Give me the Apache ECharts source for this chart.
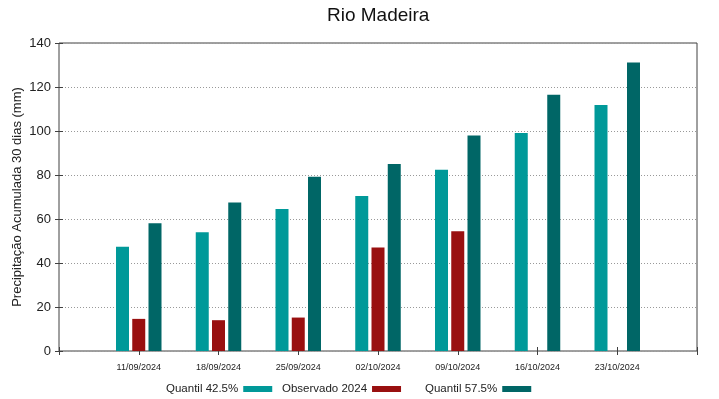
<!DOCTYPE html>
<html>
<head>
<meta charset="utf-8">
<script src="https://cdn.jsdelivr.net/npm/echarts@6/dist/echarts.min.js"></script>
<style>
  html, body { margin: 0; padding: 0; background: #fff; }
  #chart { width: 719px; height: 399px; }
</style>
</head>
<body>
<div id="chart"></div>
<script>
// datas das semanas
var dates = ['11/09/2024', '18/09/2024', '25/09/2024', '02/10/2024', '09/10/2024', '16/10/2024', '23/10/2024'];
var quantil425 = [47.4, 54.0, 64.6, 70.5, 82.4, 99.1, 111.8];
var observado = [14.6, 14.0, 15.2, 47.1, 54.4, null, null];
var quantil575 = [58.1, 67.5, 79.2, 85.0, 98.0, 116.5, 131.1];
var yTicks = [0, 20, 40, 60, 80, 100, 120, 140];

var font = 'Liberation Sans, Arial, sans-serif';
var chart = echarts.init(document.getElementById('chart'));

function toPoints(arr) {
  return arr.map(function (v, i) { return [i + 1, v == null ? '-' : v]; });
}

function legendAt(left, name) {
  return {
    left: left,
    top: 378,
    align: 'right',
    icon: 'rect',
    itemWidth: 29,
    itemHeight: 6,
    data: [name],
    textStyle: { fontFamily: font, fontSize: 11.5, color: '#222' }
  };
}

var tick = { show: true, inside: true, length: 4, lineStyle: { color: '#404040' } };

var option = {
  animation: false,
  title: {
    text: 'Rio Madeira',
    left: 322,
    top: 1,
    textStyle: { fontFamily: font, fontSize: 19, fontWeight: 'normal', color: '#111' }
  },
  legend: [
    legendAt(161, 'Quantil 42.5%'),
    legendAt(277, 'Observado 2024'),
    legendAt(420, 'Quantil 57.5%')
  ],
  grid: {
    left: 59, right: 22, top: 43, bottom: 48,
    outerBoundsMode: 'none',
    containLabel: false,
    show: true, borderColor: '#404040', borderWidth: 1
  },
  xAxis: [
    {
      type: 'value', min: 0, max: 8, interval: 1,
      axisLine: { show: false },
      axisTick: tick,
      splitLine: { show: false },
      axisLabel: {
        fontFamily: font, fontSize: 9, color: '#222', margin: 12,
        formatter: function (v) { return dates[v - 1] || ''; }
      }
    },
    {
      type: 'value', position: 'top', min: 0, max: 8, interval: 1,
      axisLine: { show: false },
      axisTick: tick,
      splitLine: { show: false },
      axisLabel: { show: false }
    }
  ],
  yAxis: [
    {
      type: 'value', min: 0, max: 140, interval: 20,
      name: 'Precipitação Acumulada 30 dias (mm)',
      nameLocation: 'middle',
      nameGap: 35,
      nameMoveOverlap: false,
      nameTextStyle: { fontFamily: font, fontSize: 13, color: '#222' },
      axisLine: { show: false },
      axisTick: tick,
      axisLabel: {
        fontFamily: font, fontSize: 13, color: '#222', margin: 8,
        formatter: function (v) { return yTicks.indexOf(v) >= 0 ? String(v) : ''; }
      },
      splitLine: { show: true, lineStyle: { color: '#999', type: [1, 2], width: 1 } }
    },
    {
      type: 'value', position: 'right', min: 0, max: 140, interval: 20,
      axisLine: { show: false },
      axisTick: tick,
      axisLabel: { show: false },
      splitLine: { show: false }
    }
  ],
  series: [
    {
      name: 'Quantil 42.5%', type: 'bar', barWidth: 13, barGap: '25%',
      itemStyle: { color: '#009999' },
      data: toPoints(quantil425)
    },
    {
      name: 'Observado 2024', type: 'bar', barWidth: 13, barGap: '25%',
      itemStyle: { color: '#991010' },
      data: toPoints(observado)
    },
    {
      name: 'Quantil 57.5%', type: 'bar', barWidth: 13, barGap: '25%',
      itemStyle: { color: '#006666' },
      data: toPoints(quantil575)
    }
  ]
};

chart.setOption(option);
</script>
</body>
</html>
